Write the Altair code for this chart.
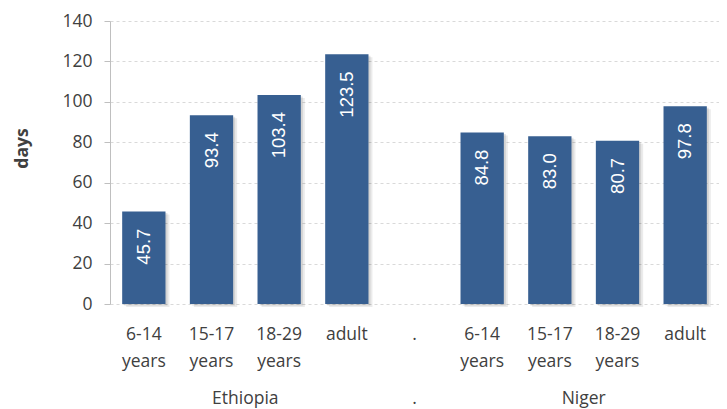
import altair as alt
import pandas as pd

slots = ["Ethiopia|6-14|years", "Ethiopia|15-17|years", "Ethiopia|18-29|years", "Ethiopia|adult",
         ".|.",
         "Niger|6-14|years", "Niger|15-17|years", "Niger|18-29|years", "Niger|adult"]
bar_slots = [s for s in slots if s != ".|."]
values = [45.7, 93.4, 103.4, 123.5, 84.8, 83.0, 80.7, 97.8]
labels = ["45.7", "93.4", "103.4", "123.5", "84.8", "83.0", "80.7", "97.8"]

groups = ["Ethiopia", ".", "Niger"]
group_anchor = ["Ethiopia|15-17|years", ".|.", "Niger|15-17|years"]

W, H = 609, 283
PI = 0.36
STEP = W / len(slots)
gap_half = STEP * PI / 2
group_band = [1.0, 0.5, 1.0]
group_shift = [gap_half, 0.0, gap_half]

df = pd.DataFrame({"slot": bar_slots, "value": values, "label": labels})

BAR = "#375F91"
TXT = "#404040"
FONT = "Open Sans"

xscale = alt.Scale(domain=slots, paddingInner=PI, paddingOuter=PI / 2)
yscale = alt.Scale(domain=[0, 140])

xaxis = alt.Axis(
    title=None, labelExpr="slice(split(datum.label, '|'), 1)", labelAngle=0,
    labelFont=FONT, labelFontSize=17.5, labelColor=TXT, labelLineHeight=27,
    labelPadding=21, ticks=False, domain=False, labelBaseline="top",
)
yaxis = alt.Axis(
    title="days", values=list(range(0, 141, 20)), labelFont=FONT, labelFontSize=17.5,
    labelColor=TXT, labelPadding=12, tickSize=6, tickColor="#bfbfbf",
    domainColor="#bfbfbf", gridColor="#d9d9d9", gridDash=[3, 3],
    titleFont=FONT, titleFontSize=17.5, titleFontWeight="bold", titleColor=TXT,
    titleAngle=-90, titleX=-88, titleY=127, titleAlign="center", titleBaseline="middle",
)

base = alt.Chart(df)

shadow1 = base.mark_bar(color="#000000", opacity=0.08, xOffset=4, yOffset=3).encode(
    x=alt.X("slot:N", scale=xscale, axis=xaxis, sort=slots),
    y=alt.Y("value:Q", scale=yscale, axis=yaxis),
)
shadow2 = base.mark_bar(color="#000000", opacity=0.10, xOffset=2, yOffset=1.5).encode(
    x=alt.X("slot:N", scale=xscale, sort=slots),
    y=alt.Y("value:Q", scale=yscale),
)
bars = base.mark_bar(color=BAR).encode(
    x=alt.X("slot:N", scale=xscale, sort=slots),
    y=alt.Y("value:Q", scale=yscale),
)
texts = base.mark_text(angle=270, align="right", baseline="middle", yOffset=17,
                       font="Liberation Sans", fontSize=18.5, color="white").encode(
    x=alt.X("slot:N", scale=xscale, sort=slots),
    y=alt.Y("value:Q", scale=yscale),
    text="label:N",
)

glayers = []
for g, s, bp, sh in zip(groups, group_anchor, group_band, group_shift):
    glayers.append(
        alt.Chart(pd.DataFrame({"g": [g], "slot": [s]})).mark_text(
            font=FONT, fontSize=17.5, color=TXT, baseline="middle", align="center",
            xOffset=sh,
        ).encode(
            x=alt.X("slot:N", scale=xscale, sort=slots, bandPosition=bp),
            y=alt.value(H + 95),
            text="g:N",
        )
    )

chart = alt.layer(shadow1, shadow2, bars, texts, *glayers).properties(
    width=W, height=H,
    autosize=alt.AutoSizeParams(type="none"),
    padding={"left": 102, "top": 13, "right": 0, "bottom": 106},
).configure_view(stroke=None)

chart.save("out.html", embed_options={"renderer": "svg", "actions": False})
